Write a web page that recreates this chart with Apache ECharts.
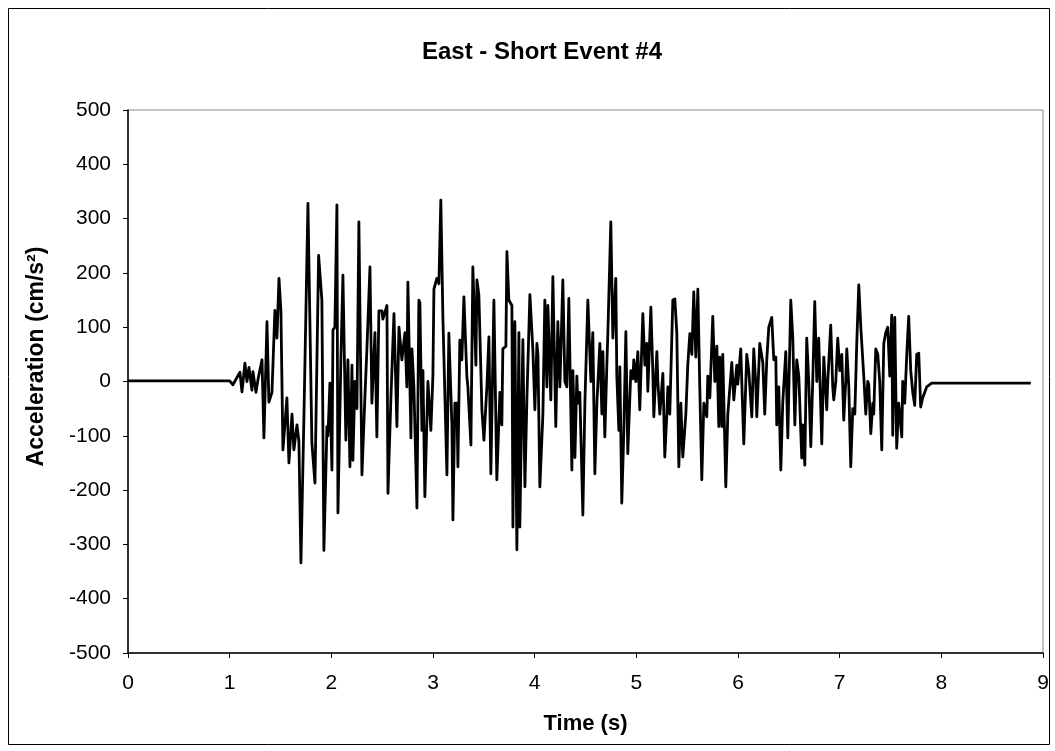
<!DOCTYPE html>
<html>
<head>
<meta charset="utf-8">
<script src="https://cdn.jsdelivr.net/npm/echarts@6/dist/echarts.min.js"></script>
<style>
html,body{margin:0;padding:0;background:#fff;}
#chart{width:1055px;height:751px;}
</style>
</head>
<body>
<div id="chart"></div>
<script>
var titleText = 'East - Short Event #4';
var xAxisName = 'Time (s)';
var yAxisName = 'Acceleration (cm/s\u00B2)';

var timeS = [
0,0.5,1.0,1.032,1.101,1.121,1.150,1.170,1.190,1.219,1.229,1.259,1.278,1.318,1.337,1.367,1.386,1.416,1.445,1.465,1.485,1.504,1.524,1.563,1.583,1.613,1.632,1.662,1.681,1.701,1.731,1.770,1.809,1.839,1.875,
1.907,1.927,1.957,1.967,1.986,2.006,2.016,2.035,2.055,2.065,2.094,2.114,2.143,2.163,2.183,2.203,2.212,2.232,2.252,2.271,2.301,2.330,2.350,2.380,2.399,2.429,2.448,2.468,2.498,2.507,2.547,2.557,2.586,2.616,2.645,2.665,2.694,2.724,2.743,2.753,2.783,2.793,2.812,2.842,2.861,
2.871,2.891,2.901,2.920,2.950,2.979,2.999,3.009,3.038,3.058,3.077,3.097,3.137,3.156,3.186,3.196,3.215,3.235,3.245,3.264,3.284,3.304,3.333,3.343,3.373,3.392,3.422,3.432,3.451,3.481,3.501,3.530,3.550,3.569,3.599,3.628,3.658,3.677,3.687,3.717,3.727,3.746,3.776,3.786,3.805,3.825,3.845,
3.854,3.884,3.904,3.924,3.953,3.982,4.002,4.022,4.032,4.051,4.081,4.100,4.120,4.130,4.159,4.179,4.208,4.228,4.248,4.277,4.297,4.317,4.336,4.366,4.376,4.396,4.415,4.425,4.444,4.474,4.494,4.523,4.553,4.572,4.592,4.612,4.641,4.661,4.671,4.690,4.710,4.720,4.749,4.769,4.798,4.808,4.828,
4.838,4.857,4.877,4.897,4.916,4.946,4.966,4.975,4.995,5.015,5.034,5.064,5.084,5.103,5.113,5.143,5.162,5.172,5.202,5.212,5.231,5.261,5.280,5.300,5.310,5.329,5.359,5.379,5.398,5.418,5.438,5.457,5.487,5.506,5.526,5.546,5.565,5.585,5.605,5.624,5.644,5.664,5.693,5.703,5.723,5.752,5.772,5.792,5.811,
5.821,5.841,5.850,5.880,5.900,5.939,5.959,5.988,5.998,6.027,6.057,6.086,6.106,6.136,6.155,6.175,6.185,6.214,6.244,6.263,6.283,6.303,6.332,6.352,6.372,6.381,6.401,6.421,6.440,6.470,6.490,6.519,6.539,6.559,6.578,6.598,6.627,6.637,6.657,6.676,6.696,6.716,6.735,6.755,6.775,6.794,
6.804,6.824,6.844,6.873,6.883,6.912,6.932,6.942,6.962,6.981,7.001,7.021,7.040,7.060,7.070,7.090,7.109,7.129,7.149,7.168,7.188,7.208,7.227,7.237,7.257,7.276,7.286,7.306,7.326,7.335,7.355,7.375,7.394,7.414,7.434,7.453,7.473,7.493,7.512,7.522,7.542,7.561,7.581,7.611,7.620,7.640,7.660,7.679,7.699,7.719,7.738,7.758,7.778,7.797,7.817,7.856,7.905,8.2,8.5,8.88
];

var accel = [
1,1,1,-6,17,-19,34,0,26,-16,18,-20,3,40,-104,110,-38,-20,131,80,190,130,-126,-30,-150,-60,-126,-80,-110,-334,-60,328,-114,-187,232,
150,-311,-83,-100,-3,-163,95,100,325,-242,40,196,-108,40,-157,30,-145,0,-50,294,-172,-30,60,211,-40,90,-102,130,130,115,140,-206,-30,125,-83,100,40,90,-10,183,-104,60,-10,-233,150,
145,-90,20,-212,0,-90,10,170,190,180,334,120,-172,89,-80,-255,-40,-40,-157,76,40,156,10,-10,-117,211,30,187,160,-52,-108,-10,82,-170,150,-181,-20,-80,60,65,239,150,140,-268,110,-310,90,
-268,77,-194,-30,160,60,-52,70,50,-194,-60,150,-10,140,-34,193,-83,110,-10,187,0,-10,153,-163,20,-140,10,-40,-20,-246,-40,150,0,90,-170,-40,70,-60,55,-102,30,90,294,80,190,10,-90,
27,-224,-90,92,-133,20,5,40,0,55,-52,125,30,70,-18,137,20,-65,55,0,-60,15,-139,-60,-10,-60,150,152,90,-157,-40,-139,-60,30,88,50,165,45,170,-10,-181,-40,-65,10,-30,120,0,65,-83,
45,-83,50,-194,-60,35,-34,30,-5,60,-115,50,20,-65,60,-5,-65,70,35,-60,40,100,118,40,45,-80,-10,-163,-40,55,-104,150,80,-80,40,10,-141,-80,-154,80,0,-120,0,147,0,80,
80,-115,45,-52,0,104,-10,-34,0,80,20,50,-71,0,60,-10,-157,-50,-60,70,178,100,100,10,-60,0,-5,-96,-40,-60,60,50,0,-126,70,90,100,10,122,-99,118,-123,-40,-102,0,-40,50,120,20,-20,-44,50,52,-47,-30,-10,-3,-3,-3,-3
];

var xTicks = { min: 0, max: 9, interval: 1 };
var yTicks = { min: -500, max: 500, interval: 100 };

var seriesData = timeS.map(function (t, i) { return [t, accel[i]]; });

var chart = echarts.init(document.getElementById('chart'), null, { renderer: 'canvas' });
var font = 'Liberation Sans, Arial, sans-serif';
chart.setOption({
  backgroundColor: '#ffffff',
  animation: false,
  graphic: [{
    type: 'rect',
    shape: { x: 8.5, y: 8.5, width: 1041, height: 736 },
    style: { fill: 'none', stroke: '#000', lineWidth: 1 },
    silent: true
  }],
  title: {
    text: titleText,
    left: 537, top: 35, textAlign: 'center',
    textStyle: { fontFamily: font, fontWeight: 'bold', fontSize: 24, color: '#000' }
  },
  grid: {
    left: 128, right: 12, top: 110, bottom: 98,
    show: true, borderColor: '#888', borderWidth: 1, backgroundColor: 'transparent'
  },
  xAxis: {
    type: 'value',
    min: xTicks.min, max: xTicks.max, interval: xTicks.interval,
    name: xAxisName, nameLocation: 'middle', nameGap: 60,
    nameTextStyle: { fontFamily: font, fontWeight: 'bold', fontSize: 22, color: '#000' },
    axisLine: { show: true, onZero: false, lineStyle: { color: '#000', width: 1.5 } },
    axisTick: { show: true, inside: false, length: 5, lineStyle: { color: '#000' } },
    axisLabel: { fontFamily: font, fontSize: 21, color: '#000', margin: 20 },
    splitLine: { show: false }
  },
  yAxis: {
    type: 'value',
    min: yTicks.min, max: yTicks.max, interval: yTicks.interval,
    name: yAxisName, nameLocation: 'middle', nameGap: 80,
    nameTextStyle: { fontFamily: font, fontWeight: 'bold', fontSize: 23, color: '#000', padding: [0, 0, 0, 50] },
    axisLine: { show: true, onZero: false, lineStyle: { color: '#000', width: 1.5 } },
    axisTick: { show: true, inside: false, length: 5, lineStyle: { color: '#000' } },
    axisLabel: { fontFamily: font, fontSize: 21, color: '#000', margin: 17 },
    splitLine: { show: false }
  },
  series: [{
    type: 'line',
    data: seriesData,
    showSymbol: false,
    symbol: 'none',
    lineStyle: { color: '#000', width: 2.8, join: 'round' },
    smooth: false
  }]
});
</script>
</body>
</html>
